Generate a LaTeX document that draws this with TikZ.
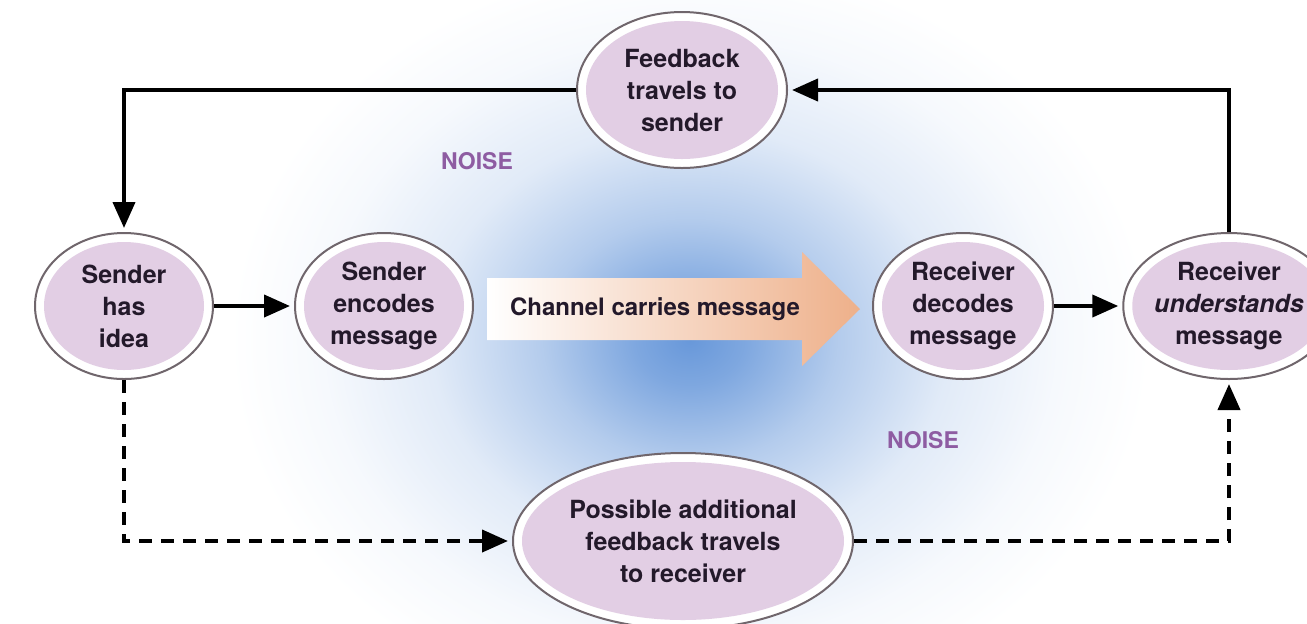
\documentclass[tikz,border=0pt]{standalone}
\usepackage{fontspec}
\setmainfont{TeX Gyre Heros}
\usetikzlibrary{arrows.meta,shapes.geometric,calc}
\definecolor{bubfill}{RGB}{226,206,228}
\definecolor{ringgray}{RGB}{112,102,108}
\definecolor{txtdark}{RGB}{35,25,42}
\definecolor{noisepurple}{RGB}{142,92,162}
\definecolor{peach}{RGB}{238,176,138}
\definecolor{glowblue}{RGB}{104,152,218}
\pgfdeclareradialshading{noiseglow}{\pgfpoint{0bp}{0bp}}{color(0bp)=(glowblue);
    color(3bp)=(glowblue!85!white); color(8bp)=(glowblue!50!white);
    color(14bp)=(glowblue!20!white); color(20bp)=(glowblue!6!white);
    color(25bp)=(white); color(50bp)=(white)}
\begin{document}
\begin{tikzpicture}[x=0.5pt,y=-0.5pt,
        bubble/.style={ellipse,draw=ringgray,line width=1pt,fill=white,inner sep=0pt,
            align=center,text=txtdark,font=\bfseries\fontsize{12.5}{16}\selectfont,
            path picture={\fill[bubfill] let \p1=(path picture bounding box.north east),
                \p2=(path picture bounding box.center) in
                (\p2) ellipse ({\x1-\x2-4.5pt} and {\y1-\y2-4.5pt});}},
        flow/.style={line width=2pt,-{Triangle[length=13pt,width=11pt]},shorten >=2pt},
        maybe/.style={flow,dash pattern=on 6.5pt off 4.5pt},
        noise/.style={text=noisepurple,font=\bfseries\fontsize{11.5}{13}\selectfont}]
    \useasboundingbox (0,0) rectangle (1307,623);
    \clip (0,0) rectangle (1307,623);
    \fill[white] (0,0) rectangle (1307,623);
    \shade[shading=noiseglow] (690,340) ellipse [x radius=230pt,y radius=190pt];

    % channel arrow
    \shade[left color=white,middle color=peach!55!white,right color=peach]
        (487,278) -- (802,278) -- (802,252) -- (860,309)
        -- (802,366) -- (802,340) -- (487,340) -- cycle;
    \node[text=txtdark,font=\bfseries\fontsize{12}{14}\selectfont] (channel) at (655,309)
        {Channel carries message};

    \node[bubble,minimum width=89pt,minimum height=73pt] (idea) at (124,306) {Sender\\has\\idea};
    \node[bubble,minimum width=89pt,minimum height=73pt] (encode) at (384,306) {Sender\\encodes\\message};
    \node[bubble,minimum width=90pt,minimum height=73pt] (decode) at (963,306) {Receiver\\decodes\\message};
    \node[bubble,minimum width=98pt,minimum height=73pt] (grasp) at (1229,306)
        {Receiver\\\textit{understands}\\message};
    \node[bubble,minimum width=105pt,minimum height=78pt] (reply) at (682,90) {Feedback\\travels to\\sender};
    \node[bubble,minimum width=170pt,minimum height=88pt] (extra) at (683,541)
        {Possible additional\\feedback travels\\to receiver};

    \node[noise] (noiseup) at (477,161) {NOISE};
    \node[noise] (noisedown) at (923,440) {NOISE};

    \draw[flow] (reply.west) -| (idea.north);
    \draw[flow] (grasp.north) |- (reply.east);
    \draw[flow] (idea) -- (encode);
    \draw[flow] (decode) -- (grasp);
    \draw[maybe] (idea.south) |- (extra.west);
    \draw[maybe] (extra.east) -| (grasp.south);
\end{tikzpicture}
\end{document}
